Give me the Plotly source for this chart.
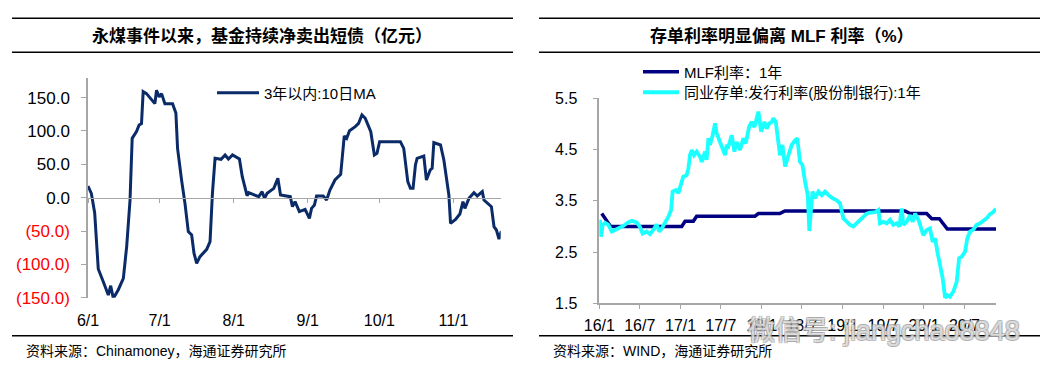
import plotly.graph_objects as go
import pandas as pd

# The page body keeps an 8px margin, so the figure fills the rest of the 1064x380 window.
OFF = 8
W, H = 1064 - OFF, 380 - OFF


def px(x):
    return (x - OFF) / W


def py(y):
    return 1 - (y - OFF) / H


# ---------------- Left chart data: fund net sales of short bonds (10-day MA, 100m CNY)
fund_base = "2020-06-01"
fund_day = [0, 1.4, 2.8, 4.3, 6.4, 8.5, 9.5, 10.6, 12.7, 14.8, 16.2, 17.6, 18.5, 20.3, 21.4, 22.4,
            23.1, 24.5, 28, 28.7, 29.8, 30.8, 32.2, 35.4, 36.8, 37.5, 39.2, 40.6, 42, 43.4, 44.4,
            45.5, 46.9, 49.7, 51.1, 52.1, 53.2, 55.7, 57.4, 58.8, 60.5, 63.4, 64.6, 65.6, 66.6,
            67.3, 71.5, 72.9, 73.9, 75, 77.8, 79.5, 80.6, 84.7, 85.6, 86.7, 88.5, 90.9, 92.7,
            93.6, 94.8, 95.7, 98.5, 99.9, 101.3, 103.4, 105.8, 107.3, 108.3, 109.5, 111.9,
            113.3, 114.7, 116.1, 118.4, 119.9, 121, 122.1, 130.8, 132.2, 133.9, 135, 136.1,
            137.1, 137.8, 140.6, 141.7, 143.3, 144.1, 144.8, 147.6, 149, 151.1, 151.8, 153.9,
            155.7, 157, 157.8, 159.5, 161.6, 163, 165.1, 165.8, 168.9, 170, 171, 172.1, 173.1]
fund_net = [17.5, 6.5, -23, -107, -126, -146, -132, -151, -138, -121, -73, -3.5, 89, 99, 109, 111,
            159, 156, 141, 161, 151, 156, 141, 141, 127, 74, 26, -8.5, -51, -56, -83.5,
            -98.5, -88.5, -77.5, -66, 6.5, 59, 57.5, 64, 58, 64, 58, 31.5, 19, 3,
            7.5, 1.5, 9, -1, 6.5, 14, 29, 4, 1.5, -13.5, -6, -21, -17.5, -31,
            -16, -11, 2.5, 2.5, -3.5, 11.5, 26.5, 35, 92.5, 89, 100.5, 106.5,
            111.5, 124, 119, 99, 64, 66.5, 84, 84, 74, 24, 14, 14,
            49, 59, 62.5, 26.5, 41.5, 44, 82.5, 79, 56.5, 4, -38.5, -32.5,
            -24.5, -6, -16, -1, 7.5, 2.5, 9, -3.5, -13.5, -43.5, -48.5, -62, -50]
fund_name = "3年以内:10日MA"
fund_tick_dates = ["2020-06-01", "2020-07-01", "2020-08-01", "2020-09-01", "2020-10-01", "2020-11-01"]
fund_tick_labels = ["6/1", "7/1", "8/1", "9/1", "10/1", "11/1"]
fund_y_ticks = [-150, -100, -50, 0, 50, 100, 150]
fund_y_labels = ["(150.0)", "(100.0)", "(50.0)", "0.0", "50.0", "100.0", "150.0"]

# ---------------- Right chart data: MLF vs NCD rate (%)
mlf_name = "MLF利率：1年"
mlf_date = ["2016-01-12", "2016-02-21", "2017-01-06", "2017-01-21", "2017-02-27", "2017-03-14",
            "2017-12-01", "2017-12-17", "2018-03-23", "2018-04-15", "2019-10-08", "2019-10-30",
            "2020-01-13", "2020-02-05", "2020-03-10", "2020-04-15", "2020-11-20"]
mlf_rate = [3.25, 3.00, 3.00, 3.10, 3.10, 3.20, 3.20, 3.25, 3.25, 3.30, 3.30, 3.25,
            3.25, 3.15, 3.15, 2.95, 2.95]

ncd_name = "同业存单:发行利率(股份制银行):1年"
ncd_base = "2016-01-01"
ncd_day = [3, 8, 15, 26, 41, 56, 71, 86, 108, 130, 146, 168, 183, 195, 213, 228, 243, 258, 270,
           281, 296, 311, 323, 330, 345, 356, 370, 378, 393, 401, 408, 416, 426, 438, 453, 461,
           476, 483, 491, 498, 510, 521, 528, 543, 558, 566, 573, 581, 596, 608, 618, 633, 648,
           659, 674, 686, 698, 708, 716, 728, 743, 753, 765, 776, 783, 794, 806, 813, 824, 836,
           851, 866, 881, 891, 903, 914, 926, 938, 945, 953, 959, 971, 986, 1001, 1016, 1031,
           1049, 1068, 1083, 1098, 1113, 1128, 1143, 1158, 1173, 1188, 1203, 1218, 1241, 1256,
           1263, 1278, 1293, 1308, 1323, 1338, 1350, 1361, 1368, 1383, 1398, 1410, 1421, 1436,
           1451, 1458, 1473, 1488, 1500, 1511, 1521, 1533, 1545, 1556, 1566, 1578, 1593, 1608,
           1619, 1631, 1646, 1656, 1668, 1683, 1698, 1713, 1728, 1743, 1758, 1773, 1784]
ncd_rate = [3.13, 2.80, 3.03, 3.07, 3.03, 2.90, 2.93, 2.96, 3.01, 3.08, 3.11, 3.08, 2.99, 2.86,
            2.90, 2.85, 2.93, 3.04, 2.90, 2.96, 3.06, 3.19, 3.32, 3.68, 3.71, 3.65, 3.86, 3.97,
            4.00, 4.13, 4.39, 4.49, 4.39, 4.46, 4.36, 4.26, 4.46, 4.30, 4.72, 4.59, 4.78, 5.01,
            4.82, 4.65, 4.46, 4.39, 4.59, 4.56, 4.78, 4.46, 4.65, 4.49, 4.72, 4.62, 4.94, 5.04,
            4.94, 5.11, 5.24, 4.85, 5.04, 4.91, 5.01, 5.04, 5.11, 5.04, 4.59, 4.39, 4.59, 4.17,
            4.39, 4.59, 4.68, 4.72, 4.26, 4.20, 3.87, 3.61, 2.91, 3.48, 3.68, 3.55, 3.68, 3.61,
            3.68, 3.61, 3.55, 3.51, 3.45, 3.16, 3.09, 3.03, 3.00, 3.06, 3.12, 3.19, 3.25, 3.27,
            3.28, 3.32, 3.06, 3.09, 3.06, 3.13, 3.03, 3.06, 3.00, 3.35, 3.03, 3.09, 3.22, 3.09,
            3.25, 3.13, 2.96, 2.83, 2.93, 2.96, 2.70, 2.77, 2.51, 2.25, 1.99, 1.61, 1.66, 1.63,
            1.73, 1.92, 2.38, 2.41, 2.51, 2.77, 2.90, 2.94, 3.03, 3.06, 3.11, 3.16, 3.24, 3.28, 3.35]
rate_tick_dates = ["2016-01-01", "2016-07-01", "2017-01-01", "2017-07-01", "2018-01-01",
                   "2018-07-01", "2019-01-01", "2019-07-01", "2020-01-01", "2020-07-01"]
rate_tick_labels = ["16/1", "16/7", "17/1", "17/7", "18/1", "18/7", "19/1", "19/7", "20/1", "20/7"]
rate_y_ticks = [1.5, 2.5, 3.5, 4.5, 5.5]

titles = ["永煤事件以来，基金持续净卖出短债（亿元）", "存单利率明显偏离 MLF 利率（%）"]
sources = ["资料来源：Chinamoney，海通证券研究所", "资料来源：WIND，海通证券研究所"]

# ---------------- build
FONT = "Liberation Sans, Arial, Noto Sans CJK SC"
AX_GRAY = "#A6A6A6"

fund_x = pd.Timestamp(fund_base) + pd.to_timedelta(fund_day, unit="D")
ncd_x = pd.Timestamp(ncd_base) + pd.to_timedelta(ncd_day, unit="D")

fig = go.Figure()
fig.add_trace(go.Scatter(x=fund_x, y=fund_net, name=fund_name, mode="lines",
                         line=dict(color="#0B2B68", width=3), xaxis="x", yaxis="y",
                         legend="legend"))
# invisible companion trace to carry the zero-line axis
fig.add_trace(go.Scatter(x=fund_x, y=fund_net, mode="lines", showlegend=False,
                         line=dict(color="rgba(0,0,0,0)", width=0), xaxis="x2", yaxis="y",
                         hoverinfo="skip"))
fig.add_trace(go.Scatter(x=mlf_date, y=mlf_rate, name=mlf_name, mode="lines",
                         line=dict(color="#000080", width=3.5), xaxis="x3", yaxis="y2",
                         legend="legend2"))
fig.add_trace(go.Scatter(x=ncd_x, y=ncd_rate, name=ncd_name, mode="lines",
                         line=dict(color="#1AFFFF", width=3.8), xaxis="x3", yaxis="y2",
                         legend="legend3"))

left_dom = [px(88), px(500.7)]
left_ydom = [py(297.7), py(78.3)]
zero_pos = py(197.7)
fund_range = [pd.Timestamp(fund_base), pd.Timestamp(fund_base) + pd.Timedelta(days=172.8)]

right_dom = [px(599.3), px(996)]
right_ydom = [py(303.3), py(98.3)]
rate_range = [pd.Timestamp(ncd_base), pd.Timestamp(ncd_base) + pd.Timedelta(days=1785)]

fund_ticktext = [f'<span style="color:#FF0000">{t}</span>' if v < 0 else t
                 for v, t in zip(fund_y_ticks, fund_y_labels)]

legend_common = dict(xanchor="left", yanchor="middle", bgcolor="rgba(0,0,0,0)", borderwidth=0,
                     font=dict(size=15, family=FONT), tracegroupgap=0)

fig.update_layout(
    width=W, height=H, margin=dict(l=0, r=0, t=0, b=0, autoexpand=False),
    paper_bgcolor="white", plot_bgcolor="white",
    font=dict(family=FONT, color="black", size=16),
    xaxis=dict(domain=left_dom, anchor="y", type="date", range=fund_range,
               tickvals=fund_tick_dates, ticktext=fund_tick_labels, automargin=False,
               showline=False, showgrid=False, zeroline=False,
               ticks="outside", ticklen=8, tickcolor="rgba(0,0,0,0)",
               tickfont=dict(size=16, family=FONT)),
    xaxis2=dict(overlaying="x", matches="x", anchor="free", position=zero_pos, domain=left_dom,
                type="date", tickvals=fund_tick_dates, showticklabels=False, automargin=False,
                showline=True, linecolor=AX_GRAY, linewidth=1.2, showgrid=False, zeroline=False,
                ticks="outside", ticklen=4, tickcolor=AX_GRAY, tickwidth=1.2),
    yaxis=dict(domain=left_ydom, anchor="x", range=[-150, 179], automargin=False,
               tickvals=fund_y_ticks, ticktext=fund_ticktext,
               showline=True, linecolor=AX_GRAY, linewidth=1.5, showgrid=False, zeroline=False,
               ticks="outside", ticklen=5, tickcolor=AX_GRAY, tickwidth=1.2,
               ticklabelstandoff=8, tickfont=dict(size=17, family=FONT)),
    xaxis3=dict(domain=right_dom, anchor="y2", type="date", range=rate_range, automargin=False,
                tickvals=rate_tick_dates, ticktext=rate_tick_labels,
                showline=True, linecolor=AX_GRAY, linewidth=1.5, showgrid=False, zeroline=False,
                ticks="outside", ticklen=4, tickcolor=AX_GRAY, tickwidth=1.2,
                ticklabelstandoff=3, tickfont=dict(size=16, family=FONT)),
    yaxis2=dict(domain=right_ydom, anchor="x3", range=[1.5, 5.5], automargin=False,
                tickvals=rate_y_ticks, ticktext=[f"{v:.1f}" for v in rate_y_ticks],
                showline=True, linecolor=AX_GRAY, linewidth=1.5, showgrid=False, zeroline=False,
                ticks="outside", ticklen=5, tickcolor=AX_GRAY, tickwidth=1.2,
                ticklabelstandoff=12, tickfont=dict(size=16, family=FONT)),
    legend=dict(x=px(212), y=py(93), itemwidth=42, **legend_common),
    legend2=dict(x=px(638), y=py(72), itemwidth=36, **legend_common),
    legend3=dict(x=px(638), y=py(92.5), itemwidth=36, **legend_common),
)

shapes = []
for x0, x1 in [(12, 513), (539, 1040)]:
    for yy in [18.3, 52.3, 335.7]:
        shapes.append(dict(type="line", xref="paper", yref="paper",
                           x0=px(x0), x1=px(x1), y0=py(yy), y1=py(yy),
                           line=dict(color="black", width=1.6)))
fig.update_layout(shapes=shapes)

annotations = [
    dict(text=f"<b>{titles[0]}</b>", x=px(262), y=py(35.5), xref="paper", yref="paper",
         showarrow=False, xanchor="center", yanchor="middle",
         font=dict(size=17, family="Liberation Sans, Noto Sans CJK SC", color="black")),
    dict(text=f"<b>{titles[1]}</b>", x=px(782), y=py(35.5), xref="paper", yref="paper",
         showarrow=False, xanchor="center", yanchor="middle",
         font=dict(size=17, family="Liberation Sans, Noto Sans CJK SC", color="black")),
    dict(text=sources[0], x=px(24), y=py(351), xref="paper", yref="paper",
         showarrow=False, xanchor="left", yanchor="middle",
         font=dict(size=14, family=FONT, color="black")),
    dict(text=sources[1], x=px(551), y=py(351), xref="paper", yref="paper",
         showarrow=False, xanchor="left", yanchor="middle",
         font=dict(size=14, family=FONT, color="black")),
    dict(text="微信号: jiangchao8848", x=px(1022), y=py(331), xref="paper", yref="paper",
         showarrow=False, xanchor="right", yanchor="middle",
         font=dict(size=27, family=FONT, color="rgba(255,255,255,0.6)",
                   shadow="1px 1px 0 #9a9a9a, -1px -1px 0 #9a9a9a, 1px -1px 0 #9a9a9a, -1px 1px 0 #9a9a9a")),
]
fig.update_layout(annotations=annotations)

fig.write_html("out.html")
